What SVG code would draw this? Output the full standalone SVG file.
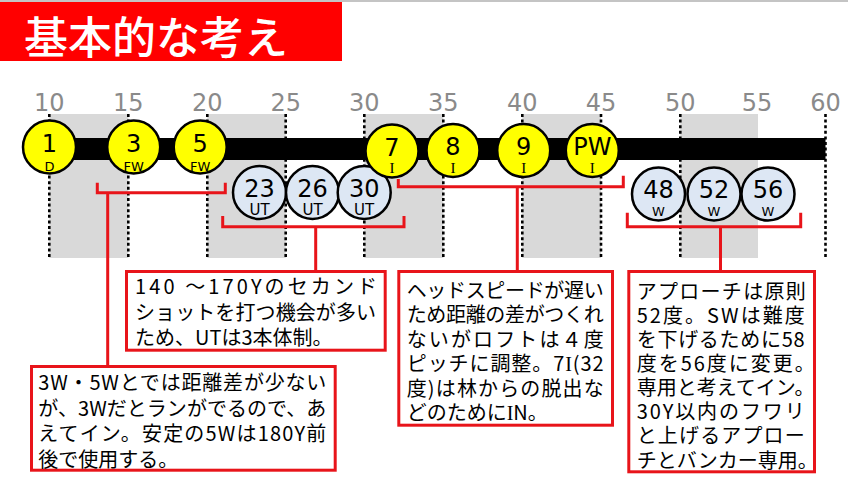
<svg xmlns="http://www.w3.org/2000/svg" width="848" height="496" viewBox="0 0 848 496">
<style>
.band{fill:#d9d9d9}
.dot{stroke:#000;stroke-width:2.6;stroke-dasharray:3 2.6;fill:none}
.tick{font-family:"DejaVu Sans",sans-serif;font-size:24px;fill:#8a8a8a;text-anchor:middle}
.red{stroke:#e8141a;stroke-width:3;fill:none}
.cy{fill:#ffff00;stroke:#000;stroke-width:2.5}
.cb{fill:#dde7f4;stroke:#000;stroke-width:2.5}
.num{font-family:"DejaVu Sans",sans-serif;font-size:24px;fill:#000;text-anchor:middle}
.sub{font-family:"DejaVu Sans",sans-serif;font-size:13px;fill:#000;text-anchor:middle}
.subu{font-family:"DejaVu Sans",sans-serif;font-size:15px;fill:#000;text-anchor:middle}
.subi{font-family:"Liberation Serif",serif;font-size:15px;fill:#000;text-anchor:middle}
.box{fill:#fff;stroke:#e8141a;stroke-width:3}
.bt{font-family:"Noto Sans CJK JP",sans-serif;font-size:20px;fill:#000}
.ser{font-family:"Liberation Serif",serif}
</style>
<rect x="0" y="0" width="848" height="2" fill="#c4c4c4"/>
<g id="title">
<rect x="0" y="2" width="342" height="59" fill="#ff0000"/>
<text x="24" y="54" font-family="Noto Sans CJK JP, sans-serif" font-size="44" font-weight="500" fill="#fff">基本的な考え</text>
</g>
<g id="scale">
<rect class="band" x="49.3" y="114" width="79" height="144"/>
<rect class="band" x="207.3" y="114" width="78.4" height="144"/>
<rect class="band" x="364.3" y="114" width="79" height="144"/>
<rect class="band" x="522.3" y="114" width="78.7" height="144"/>
<rect class="band" x="680.3" y="114" width="77.7" height="144"/>
<path class="dot" d="M49.3,114V258M128.3,114V258M207.3,114V258M285.7,114V258M364.3,114V258M443.3,114V258M522.3,114V258M601,114V258M680.3,114V258M825.5,114V258"/>
<text class="tick" x="49.3" y="111">10</text>
<text class="tick" x="128.3" y="111">15</text>
<text class="tick" x="207.3" y="111">20</text>
<text class="tick" x="285.7" y="111">25</text>
<text class="tick" x="364.3" y="111">30</text>
<text class="tick" x="443.3" y="111">35</text>
<text class="tick" x="522.3" y="111">40</text>
<text class="tick" x="601" y="111">45</text>
<text class="tick" x="680.3" y="111">50</text>
<text class="tick" x="757" y="111">55</text>
<text class="tick" x="825.5" y="111">60</text>
<rect x="49" y="138" width="776.5" height="22" fill="#000"/>
</g>
<g id="connectors">
<path class="red" d="M97.3,182.7V192.7H225.3V182.7M107.7,192.7V366.5"/>
<path class="red" d="M222.7,216V226.7H404V216M315.7,226.7V271.5"/>
<path class="red" d="M398.3,179V186.7H623.3V175.7M517.3,186.7V271.5"/>
<path class="red" d="M627.3,212.7V226.7H800.7V212.7M720.5,226.7V271.5"/>
</g>
<g id="ut23"><circle class="cb" cx="259.5" cy="192.5" r="26.5"/><text class="num" x="259.5" y="196.5">23</text><text class="subu" x="259.5" y="214.5">UT</text></g>
<g id="ut26"><circle class="cb" cx="312.5" cy="192.5" r="26.5"/><text class="num" x="312.5" y="196.5">26</text><text class="subu" x="312.5" y="214.5">UT</text></g>
<g id="ut30"><circle class="cb" cx="364.2" cy="192.5" r="26.5"/><text class="num" x="364.2" y="196.5">30</text><text class="subu" x="364.2" y="214.5">UT</text></g>
<g id="w48"><circle class="cb" cx="658.5" cy="194" r="26.5"/><text class="num" x="658.5" y="197.5">48</text><text class="sub" x="658.5" y="216">W</text></g>
<g id="w52"><circle class="cb" cx="714" cy="194" r="26.5"/><text class="num" x="714" y="197.5">52</text><text class="sub" x="714" y="216">W</text></g>
<g id="w56"><circle class="cb" cx="768" cy="194" r="26.5"/><text class="num" x="768" y="197.5">56</text><text class="sub" x="768" y="216">W</text></g>
<g id="c1"><circle class="cy" cx="49.5" cy="147" r="26.5"/><text class="num" x="49.5" y="151.5">1</text><text class="sub" x="49.5" y="170.5">D</text></g>
<g id="c3"><circle class="cy" cx="133.7" cy="147" r="26.5"/><text class="num" x="133.7" y="151.5">3</text><text class="sub" x="133.7" y="170.5">FW</text></g>
<g id="c5"><circle class="cy" cx="200.2" cy="147" r="26.5"/><text class="num" x="200.2" y="151.5">5</text><text class="sub" x="200.2" y="170.5">FW</text></g>
<g id="c7"><circle class="cy" cx="392" cy="151" r="26.5"/><text class="num" x="392" y="155.5">7</text><text class="subi" x="392" y="173">I</text></g>
<g id="c8"><circle class="cy" cx="453" cy="150.5" r="26.5"/><text class="num" x="453" y="155">8</text><text class="subi" x="453" y="172.5">I</text></g>
<g id="c9"><circle class="cy" cx="523.7" cy="150.5" r="26.5"/><text class="num" x="523.7" y="155">9</text><text class="subi" x="523.7" y="172.5">I</text></g>
<g id="cpw"><circle class="cy" cx="592.3" cy="150.5" r="26.5"/><text class="num" x="592.3" y="155">PW</text><text class="subi" x="592.3" y="172.5">I</text></g>
<g id="box-ut">
<rect class="box" x="126.5" y="271.5" width="258.7" height="78.7"/>
<text class="bt" x="135" y="294" textLength="242" lengthAdjust="spacing">140 ～170Yのセカンド</text>
<text class="bt" x="135" y="319.5" textLength="241" lengthAdjust="spacing">ショットを打つ機会が多い</text>
<text class="bt" x="135" y="345">ため、UTは3本体制。</text>
</g>
<g id="box-fw">
<rect class="box" x="31.5" y="366.5" width="303.7" height="103.7"/>
<text class="bt" x="38.3" y="390" textLength="288" lengthAdjust="spacing">3W・5Wとでは距離差が少ない</text>
<text class="bt" x="38.3" y="415.5" textLength="288" lengthAdjust="spacing">が、3Wだとランがでるので、あ</text>
<text class="bt" x="38.3" y="441" textLength="288" lengthAdjust="spacing">えてイン。安定の5Wは180Y前</text>
<text class="bt" x="38.3" y="466.5">後で使用する。</text>
</g>
<g id="box-iron">
<rect class="box" x="398.8" y="271.5" width="213.7" height="153.7"/>
<text class="bt" x="406.7" y="297.5" textLength="197" lengthAdjust="spacing">ヘッドスピードが遅い</text>
<text class="bt" x="406.7" y="322" textLength="197" lengthAdjust="spacing">ため距離の差がつくれ</text>
<text class="bt" x="406.7" y="346.5" textLength="197" lengthAdjust="spacing">ないがロフトは４度</text>
<text class="bt" x="406.7" y="371" textLength="197" lengthAdjust="spacing">ピッチに調整。7<tspan class="ser">I</tspan>(32</text>
<text class="bt" x="406.7" y="395.5" textLength="197" lengthAdjust="spacing">度)は林からの脱出な</text>
<text class="bt" x="406.7" y="420">どのために<tspan class="ser">I</tspan>N。</text>
</g>
<g id="box-w">
<rect class="box" x="628.8" y="271.5" width="185.7" height="200.3"/>
<text class="bt" x="636.7" y="298.5" textLength="169" lengthAdjust="spacing">アプローチは原則</text>
<text class="bt" x="636.7" y="322.7" textLength="168" lengthAdjust="spacing">52度。SWは難度</text>
<text class="bt" x="636.7" y="346.8" textLength="168" lengthAdjust="spacing">を下げるために58</text>
<text class="bt" x="636.7" y="371" textLength="178" lengthAdjust="spacing">度を56度に変更。</text>
<text class="bt" x="636.7" y="395.1">専用と考えてイン。</text>
<text class="bt" x="636.7" y="419.3" textLength="168" lengthAdjust="spacing">30Y以内のフワリ</text>
<text class="bt" x="636.7" y="443.4" textLength="168" lengthAdjust="spacing">と上げるアプロー</text>
<text class="bt" x="636.7" y="467.6">チとバンカー専用。</text>
</g>
</svg>
